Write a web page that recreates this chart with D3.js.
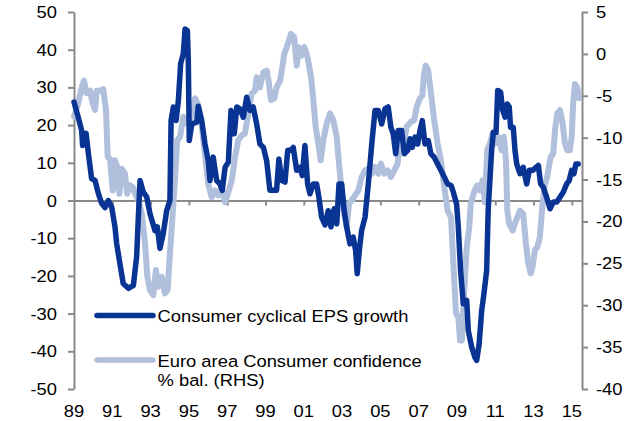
<!DOCTYPE html>
<html>
<head>
<meta charset="utf-8">
<script src="https://cdn.jsdelivr.net/npm/d3@7"></script>
<style>
  body { margin: 0; background: #fff; }
  svg { display: block; font-family: "Liberation Sans", Arial, sans-serif; }
</style>
</head>
<body>
<div id="chart"></div>
<script>
// Consumer cyclical EPS growth, % y/y (LHS)
const epsYears = [
  1989.0, 1989.22, 1989.4, 1989.45, 1989.63, 1989.75, 1989.92, 1990.1, 1990.27, 1990.45,
  1990.62, 1990.79, 1990.97, 1991.14, 1991.23, 1991.4, 1991.57, 1991.84, 1992.1, 1992.27,
  1992.36, 1992.45, 1992.62, 1992.8, 1992.97, 1993.23, 1993.35, 1993.49, 1993.66, 1993.84,
  1994.01, 1994.07, 1994.19, 1994.33, 1994.45, 1994.57, 1994.71, 1994.8, 1994.92, 1994.97,
  1995.02, 1995.15, 1995.41, 1995.49, 1995.67, 1995.84, 1996.01, 1996.1, 1996.27, 1996.45,
  1996.62, 1996.74, 1996.89, 1997.06, 1997.2, 1997.37, 1997.5, 1997.67, 1997.84, 1998.02,
  1998.19, 1998.36, 1998.54, 1998.71, 1998.89, 1999.06, 1999.23, 1999.41, 1999.58, 1999.7,
  1999.85, 2000.02, 2000.16, 2000.33, 2000.45, 2000.63, 2000.8, 2000.92, 2001.06, 2001.2,
  2001.32, 2001.5, 2001.67, 2001.79, 2001.93, 2002.11, 2002.28, 2002.42, 2002.59, 2002.72,
  2002.84, 2002.98, 2003.11, 2003.24, 2003.41, 2003.58, 2003.71, 2003.79, 2003.9, 2004.02,
  2004.2, 2004.37, 2004.55, 2004.72, 2004.89, 2005.07, 2005.24, 2005.41, 2005.55, 2005.67,
  2005.8, 2005.93, 2006.11, 2006.25, 2006.43, 2006.55, 2006.67, 2006.81, 2006.95, 2007.07,
  2007.19, 2007.33, 2007.5, 2007.64, 2007.81, 2007.99, 2008.16, 2008.34, 2008.51, 2008.69,
  2008.81, 2008.98, 2009.07, 2009.19, 2009.33, 2009.51, 2009.59, 2009.77, 2009.94, 2010.03,
  2010.16, 2010.29, 2010.41, 2010.55, 2010.63, 2010.72, 2010.81, 2010.9, 2011.04, 2011.13,
  2011.28, 2011.39, 2011.51, 2011.63, 2011.73, 2011.8, 2011.94, 2012.03, 2012.12, 2012.29,
  2012.46, 2012.64, 2012.78, 2012.95, 2013.13, 2013.25, 2013.37, 2013.51, 2013.68, 2013.86,
  2014.03, 2014.21, 2014.38, 2014.55, 2014.73, 2014.86, 2014.99, 2015.11, 2015.21, 2015.33
];
const epsValues = [
  26.1, 22.1, 18.6, 14.6, 17.8, 12.5, 5.8, 5.3, 1.9, -0.8,
  -1.9, 0, -1.8, -7, -11.5, -16.8, -22, -23.3, -22.5, -15,
  -4.4, 5.3, 2.2, 0.9, -3.5, -8, -7, -12.7, -8.8, -2.7,
  0, 21.2, 24.8, 21.2, 26.5, 36.3, 38.9, 45.5, 45.1, 37.1,
  15.9, 20.3, 20.8, 25, 21.2, 15, 10.6, 5.3, 11.5, 5.3,
  4.4, 2.7, 8.8, 10.2, 23.9, 17.7, 24.8, 24.3, 22.1, 27.4,
  23.9, 24.8, 20.3, 15, 14.1, 10.6, 2.7, 2.7, 2.7, 11,
  5.3, 4.9, 13.3, 13.3, 14.1, 8, 8.8, 6.6, 14.6, 4.4,
  1.8, 4.4, 4.4, 0.9, -4.4, -6.5, -2.7, -7, -2.2, -6.2,
  4.4, 4.4, -2.7, -7, -11.5, -9.7, -13.3, -19.4, -13.3, -8,
  -4.4, 4.4, 15, 23.9, 23.9, 20.3, 24.3, 24.8, 19.4, 17.7,
  12.4, 18.6, 18.6, 12.4, 13.3, 16.4, 14.1, 16.8, 15, 18.6,
  21.2, 15, 15.9, 12.4, 11.5, 9.7, 8, 6.2, 4.4, 4,
  2.2, -0.9, -7, -18.6, -27.4, -26.5, -34.5, -38.9, -41.6, -42.4,
  -38, -29.2, -24.7, -18.6, -2.7, 5.3, 13.3, 18.1, 18.1, 29.2,
  28.7, 23.9, 22.1, 25.6, 24.8, 19.4, 19.4, 13.3, 9.7, 7.1,
  8.8, 4.4, 8, 8, 8.8, 9.3, 4.4, 3.5, 0.9, -2.2,
  -0.4, -0.4, 0.9, 2.2, 4.4, 5.3, 8, 7.1, 9.7, 9.7
];

// Euro area consumer confidence, % balance (RHS)
const confYears = [
  1989.0, 1989.22, 1989.4, 1989.52, 1989.66, 1989.84, 1989.98, 1990.1, 1990.19, 1990.36,
  1990.53, 1990.67, 1990.76, 1990.88, 1991.02, 1991.14, 1991.26, 1991.37, 1991.49, 1991.66,
  1991.78, 1991.92, 1992.07, 1992.19, 1992.36, 1992.54, 1992.71, 1992.83, 1992.97, 1993.14,
  1993.28, 1993.4, 1993.58, 1993.75, 1993.89, 1994.01, 1994.19, 1994.33, 1994.39, 1994.54,
  1994.71, 1994.89, 1995.06, 1995.23, 1995.32, 1995.49, 1995.67, 1995.84, 1996.01, 1996.19,
  1996.36, 1996.54, 1996.71, 1996.89, 1997.06, 1997.24, 1997.41, 1997.58, 1997.76, 1997.93,
  1998.1, 1998.28, 1998.45, 1998.54, 1998.71, 1998.89, 1999.06, 1999.15, 1999.29, 1999.46,
  1999.58, 1999.76, 1999.88, 1999.98, 2000.11, 2000.23, 2000.33, 2000.5, 2000.63, 2000.75,
  2000.89, 2001.03, 2001.2, 2001.38, 2001.5, 2001.62, 2001.76, 2001.88, 2002.02, 2002.2,
  2002.37, 2002.54, 2002.72, 2002.84, 2002.98, 2003.11, 2003.24, 2003.36, 2003.5, 2003.67,
  2003.85, 2004.02, 2004.2, 2004.37, 2004.55, 2004.72, 2004.89, 2005.03, 2005.2, 2005.38,
  2005.55, 2005.73, 2005.9, 2006.02, 2006.2, 2006.37, 2006.6, 2006.77, 2006.9, 2007.07,
  2007.19, 2007.28, 2007.37, 2007.5, 2007.64, 2007.81, 2007.99, 2008.16, 2008.34, 2008.51,
  2008.69, 2008.81, 2008.95, 2009.07, 2009.16, 2009.25, 2009.37, 2009.51, 2009.64, 2009.72,
  2009.89, 2010.06, 2010.2, 2010.34, 2010.46, 2010.58, 2010.72, 2010.86, 2010.98, 2011.16,
  2011.33, 2011.45, 2011.56, 2011.63, 2011.73, 2011.91, 2012.08, 2012.29, 2012.46, 2012.6,
  2012.72, 2012.85, 2012.95, 2013.07, 2013.19, 2013.33, 2013.47, 2013.6, 2013.71, 2013.89,
  2014.03, 2014.12, 2014.24, 2014.38, 2014.52, 2014.64, 2014.76, 2014.9, 2014.99, 2015.07,
  2015.16, 2015.28, 2015.38
];
const confValues = [
  -7.5, -5.9, -4, -3.2, -4.7, -4.4, -5.9, -6.7, -4.4, -4.4,
  -4.2, -6.7, -12.3, -12.5, -16.3, -12.7, -13.5, -16.7, -13.7, -14.3,
  -16.7, -15.7, -15.9, -16.7, -17.5, -19.1, -22.6, -26.6, -28.2, -28.8,
  -25.8, -27.8, -26.6, -28.6, -28.2, -23.8, -17.9, -12.7, -10.3, -9.9,
  -7.5, -8.3, -7.9, -6.7, -5.3, -6.1, -8.5, -12, -15.5, -17.1,
  -16.3, -16.9, -15.9, -17.7, -16.5, -15.1, -12.3, -10.3, -9.7, -9.5,
  -7.1, -4.7, -4.4, -2.8, -4, -2.2, -2, -3, -5.5, -5.3,
  -4, -3.2, -1.6, 0, 0.8, 1.6, 2.4, 2, -1.4, 0.8,
  -0.2, 0.8, -0.4, -2.8, -5.5, -8.7, -10.7, -12.7, -10.3, -8.3,
  -7.1, -7.9, -9.9, -13.1, -16.3, -19.1, -20.7, -17.9, -17.5, -16.9,
  -16.3, -14.7, -13.9, -13.7, -14.3, -13.5, -14.3, -13.1, -14.3, -13.9,
  -14.7, -13.9, -13.1, -10.7, -11.1, -8.7, -8.1, -7.9, -6.3, -5.3,
  -5, -2.4, -1.4, -2, -4.7, -7.9, -10.7, -12.7, -15.9, -18.7,
  -19.5, -25, -31, -31.4, -34.2, -34.2, -28.6, -23.1, -20.7, -17.9,
  -16.5, -15.7, -16.3, -15.1, -17.7, -11.5, -10.7, -9.5, -10.7, -9.9,
  -11.5, -9.9, -12.7, -18.7, -20.3, -21.1, -19.9, -18.7, -19.1, -22.6,
  -25, -26.2, -25.4, -23.4, -23.1, -21.9, -17.9, -15.5, -14.7, -12.3,
  -11.9, -9.1, -7.1, -6.7, -8.3, -10.7, -11.5, -11.5, -9.9, -5.9,
  -3.6, -4, -5.3
];

const leftTicks = [50, 40, 30, 20, 10, 0, -10, -20, -30, -40, -50];
const rightTicks = [5, 0, -5, -10, -15, -20, -25, -30, -35, -40];
const yearTicks = [1989, 1991, 1993, 1995, 1997, 1999, 2001, 2003, 2005, 2007, 2009, 2011, 2013, 2015];
const yearLabels = ["89", "91", "93", "95", "97", "99", "01", "03", "05", "07", "09", "11", "13", "15"];
const seriesNames = ["Consumer cyclical EPS growth", "Euro area Consumer confidence", "% bal. (RHS)"];

const darkBlue = "#0a3494";
const lightBlue = "#b0bfdc";
const axisGrey = "#898989";
const stretch = 1.08; // text in the original is a bit wider than normal

const W = 632, H = 421;
const plot = { left: 74, right: 582, top: 12, bottom: 389 };

const svg = d3.select("#chart").append("svg").attr("width", W).attr("height", H);

// scales
const x = d3.scaleLinear().domain([1989, 2015.53]).range([plot.left, plot.right]);
const yL = d3.scaleLinear().domain([-50, 50]).range([plot.bottom, plot.top]);
const yR = d3.scaleLinear().domain([-40, 5]).range([plot.bottom, plot.top]);

const addText = (g, tx, ty, str, anchor) =>
  g.append("text")
    .attr("transform", `translate(${tx},${ty}) scale(${stretch},1)`)
    .attr("text-anchor", anchor)
    .attr("font-size", 17)
    .attr("fill", "#000")
    .text(str);

// left axis
const leftAxis = svg.append("g")
  .attr("transform", `translate(${plot.left},0)`)
  .call(d3.axisLeft(yL).tickValues(leftTicks).tickSize(6).tickSizeOuter(0).tickFormat(""));
leftAxis.selectAll("line, path").attr("stroke", axisGrey).attr("stroke-width", 2);
leftTicks.forEach((t) => addText(svg, 57, yL(t) + 6, t, "end"));

// right axis
const rightAxis = svg.append("g")
  .attr("transform", `translate(${plot.right},0)`)
  .call(d3.axisRight(yR).tickValues(rightTicks).tickSize(6).tickSizeOuter(0).tickFormat(""));
rightAxis.selectAll("line, path").attr("stroke", axisGrey).attr("stroke-width", 2);
rightTicks.forEach((t) => addText(svg, 596, yR(t) + 6, t, "start"));

// x axis sits on the zero line
const xAxis = svg.append("g")
  .attr("transform", `translate(0,${yL(0)})`)
  .call(d3.axisBottom(x).tickValues(yearTicks.slice(1)).tickSize(5).tickSizeOuter(0).tickFormat(""));
xAxis.selectAll("line, path").attr("stroke", axisGrey).attr("stroke-width", 2);
yearTicks.forEach((t, i) => addText(svg, x(t), 416.5, yearLabels[i], "middle"));

// lines
const confLine = d3.line()
  .x((d, i) => x(confYears[i]))
  .y((d) => yR(d));
const epsLine = d3.line()
  .x((d, i) => x(epsYears[i]))
  .y((d) => yL(d));

svg.append("path")
  .datum(confValues)
  .attr("d", confLine)
  .attr("fill", "none")
  .attr("stroke", lightBlue)
  .attr("stroke-width", 6)
  .attr("stroke-linejoin", "round")
  .attr("stroke-linecap", "round");

svg.append("path")
  .datum(epsValues)
  .attr("d", epsLine)
  .attr("fill", "none")
  .attr("stroke", darkBlue)
  .attr("stroke-width", 5.5)
  .attr("stroke-linejoin", "round")
  .attr("stroke-linecap", "round");

// legend
const legend = svg.append("g");
legend.append("line")
  .attr("x1", 97).attr("x2", 153).attr("y1", 315.5).attr("y2", 315.5)
  .attr("stroke", darkBlue).attr("stroke-width", 5.5).attr("stroke-linecap", "round");
addText(legend, 157.5, 321.5, seriesNames[0], "start");
legend.append("line")
  .attr("x1", 97).attr("x2", 153).attr("y1", 360).attr("y2", 360)
  .attr("stroke", lightBlue).attr("stroke-width", 5.5).attr("stroke-linecap", "round");
addText(legend, 157.5, 366.5, seriesNames[1], "start");
addText(legend, 157.5, 385.5, seriesNames[2], "start");
</script>
</body>
</html>
